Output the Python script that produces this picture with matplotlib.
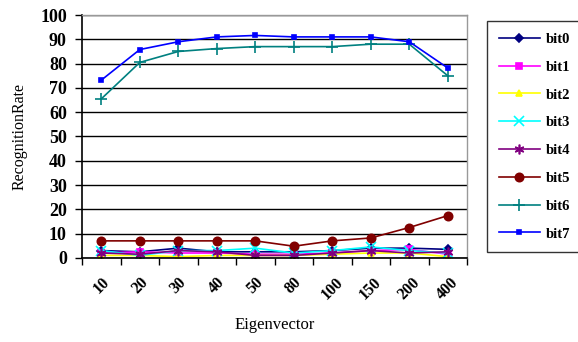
import matplotlib
matplotlib.use("Agg")
import matplotlib.pyplot as plt
import numpy as np

categories = ["10", "20", "30", "40", "50", "80", "100", "150", "200", "400"]

bit0 = [3.0, 2.5, 4.0, 2.5, 2.5, 2.5, 3.0, 4.0, 4.0, 3.5]
bit1 = [2.0, 2.5, 2.0, 2.0, 1.5, 1.5, 2.0, 3.0, 3.5, 1.5]
bit2 = [1.0, 1.0, 0.5, 1.0, 1.0, 1.0, 1.5, 2.0, 2.0, 0.5]
bit3 = [3.0, 1.0, 3.0, 3.0, 4.0, 2.0, 3.0, 4.5, 3.0, 2.0]
bit4 = [2.0, 1.5, 3.0, 2.5, 1.0, 1.0, 2.0, 3.0, 2.0, 2.5]
bit5 = [7.0, 7.0, 7.0, 7.0, 7.0, 4.8, 7.0, 8.2, 12.5, 17.4]
bit6 = [65.5, 80.5, 85.0, 86.2, 87.0, 87.0, 87.0, 88.0, 88.0, 75.0]
bit7 = [73.2, 85.8, 89.0, 91.0, 91.6, 91.0, 91.0, 91.0, 89.0, 78.2]

series_names = ["bit0", "bit1", "bit2", "bit3", "bit4", "bit5", "bit6", "bit7"]
series_values = [bit0, bit1, bit2, bit3, bit4, bit5, bit6, bit7]

colors = ["#000080", "#FF00FF", "#FFFF00", "#00FFFF", "#800080", "#800000", "#008080", "#0000FF"]
markers = ["D", "s", "^", "x", (6, 2, 0), "o", "+", "s"]
msizes = [4, 5, 5, 7, 7, 6, 8, 2.5]

plt.rcParams["font.family"] = ["Liberation Serif", "DejaVu Serif"]

fig = plt.figure(figsize=(5.78, 3.42), dpi=100)
ax = fig.add_axes([0.142, 0.246, 0.666, 0.71])

x = np.arange(len(categories))
for name, vals, c, m, ms in zip(series_names, series_values, colors, markers, msizes):
    ax.plot(x, vals, color=c, marker=m, markersize=ms, linewidth=1.2,
            markeredgewidth=1.2, label=name)

ax.set_xlim(-0.5, len(categories) - 0.5)
ax.set_ylim(0, 100)
ax.set_yticks(np.arange(0, 101, 10))
ax.yaxis.grid(True, color="black", linewidth=1.0)
ax.set_axisbelow(True)

ax.set_xticks(x)
ax.set_xticklabels(categories, rotation=45, fontweight="bold", fontsize=11.5,
                   ha="center", va="top")
ax.tick_params(axis="x", which="major", length=0, pad=12)
ax.set_xticks(np.arange(-0.5, len(categories), 1.0), minor=True)
ax.tick_params(axis="x", which="minor", length=5, width=1.0, direction="out")
ax.tick_params(axis="y", which="major", length=5, width=1.0, direction="out",
               labelsize=13, pad=6)
for lbl in ax.get_yticklabels():
    lbl.set_fontweight("bold")

for side in ["left", "bottom"]:
    ax.spines[side].set_color("black")
    ax.spines[side].set_linewidth(1.2)
for side in ["top", "right"]:
    ax.spines[side].set_color("#999999")
    ax.spines[side].set_linewidth(1.0)

ax.set_ylabel("RecognitionRate", fontsize=11.5, labelpad=9)
ax.set_xlabel("Eigenvector", fontsize=12, labelpad=10)

leg = ax.legend(loc="upper left", bbox_to_anchor=(1.052, 0.975), frameon=True,
                fancybox=False, edgecolor="black",
                prop={"weight": "bold", "size": 10.5}, labelspacing=1.0,
                handlelength=2.8, borderpad=0.8, handletextpad=0.4,
                borderaxespad=0)
leg.get_frame().set_linewidth(1.0)

fig.savefig("out.png", dpi=100)
